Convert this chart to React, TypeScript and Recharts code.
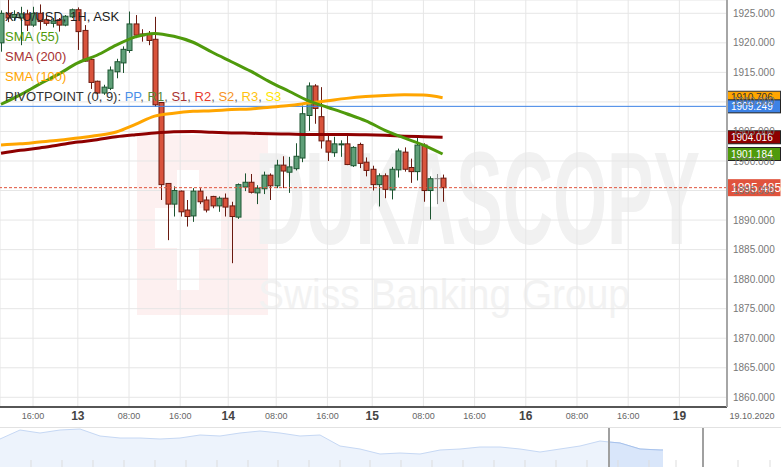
import React from "react";
import {
  ComposedChart,
  AreaChart,
  Area,
  Bar,
  Line,
  XAxis,
  YAxis,
  CartesianGrid,
  ReferenceLine,
} from "recharts";

const FONT = '"Liberation Sans", Arial, sans-serif';

// hourly candles, indexed by trading slot (closed hours are skipped)
const slots = [
  -5, -4, -3, -2, -1, 0, 1, 2, 3, 4, 5, 6, 7, 8, 9, 10, 11, 12, 13, 14, 15, 16, 17, 18, 19, 20, 21, 22, 23, 24,
  25, 26, 27, 28, 29, 30, 31, 32, 33, 34, 35, 36, 37, 38, 39, 40, 41, 42, 43, 44, 45, 46, 47, 48, 49, 50, 51, 52,
  53, 54, 55, 56, 57, 58, 59, 60, 61, 62, 63, 64,
];
const opens = [
  1920.0, 1925.0, 1924.3, 1924.2, 1924.9, 1923.0, 1925.0, 1923.9, 1923.3, 1923.9, 1923.0, 1924.4, 1925.6, 1922.1,
  1917.2, 1913.5, 1911.5, 1912.3, 1915.1, 1916.6, 1918.7, 1923.2, 1921.5, 1921.5, 1920.6, 1909.9, 1896.2, 1892.7,
  1894.9, 1891.7, 1890.7, 1894.9, 1893.4, 1894.0, 1892.4, 1893.7, 1892.4, 1890.5, 1895.6, 1896.4, 1894.6, 1895.3,
  1897.6, 1895.8, 1899.3, 1898.1, 1898.7, 1900.5, 1907.7, 1912.7, 1907.5, 1903.4, 1901.4, 1902.8, 1902.9, 1899.2,
  1902.8, 1899.8, 1898.6, 1896.0, 1897.5, 1895.1, 1898.5, 1901.5, 1898.9, 1898.2, 1902.7, 1895.0, 1897.0, 1897.1,
];
const highs = [
  1925.5, 1927.3, 1925.5, 1926.1, 1925.6, 1926.1, 1926.5, 1924.7, 1924.2, 1924.2, 1924.7, 1925.8, 1926.0, 1923.0,
  1917.4, 1913.6, 1912.9, 1916.0, 1917.3, 1919.4, 1925.3, 1924.7, 1922.3, 1922.0, 1924.4, 1909.9, 1896.2, 1895.7,
  1895.0, 1893.4, 1895.4, 1895.4, 1894.0, 1894.1, 1894.0, 1894.5, 1893.1, 1896.2, 1897.9, 1897.8, 1895.9, 1898.2,
  1897.9, 1900.2, 1900.8, 1900.7, 1903.0, 1909.4, 1913.3, 1913.0, 1912.5, 1904.7, 1904.1, 1903.5, 1904.4, 1902.5,
  1903.1, 1900.6, 1899.2, 1897.9, 1897.9, 1899.0, 1902.1, 1902.3, 1900.4, 1904.1, 1903.0, 1897.4, 1897.8, 1897.7,
];
const lows = [
  1918.5, 1923.5, 1923.8, 1919.6, 1922.0, 1922.7, 1922.2, 1922.9, 1922.6, 1921.9, 1922.8, 1924.2, 1918.8, 1916.8,
  1912.2, 1911.3, 1911.2, 1912.0, 1914.0, 1914.9, 1918.3, 1920.8, 1920.2, 1919.6, 1909.2, 1893.4, 1886.6, 1890.6,
  1890.6, 1888.9, 1889.7, 1892.7, 1891.3, 1892.0, 1891.4, 1890.6, 1882.7, 1890.2, 1894.9, 1894.5, 1892.7, 1894.4,
  1893.4, 1895.4, 1895.4, 1894.6, 1898.4, 1899.8, 1905.1, 1906.3, 1902.1, 1900.0, 1900.7, 1900.7, 1899.3, 1899.0,
  1898.8, 1897.4, 1895.0, 1892.3, 1893.7, 1893.5, 1897.2, 1898.2, 1896.3, 1896.7, 1893.1, 1890.1, 1892.7, 1893.1,
];
const closes = [
  1925.0, 1924.2, 1924.8, 1924.9, 1923.0, 1925.0, 1923.6, 1923.3, 1923.7, 1923.0, 1924.5, 1925.6, 1921.9, 1916.9,
  1913.3, 1911.5, 1912.5, 1915.4, 1916.8, 1918.9, 1923.2, 1921.3, 1921.2, 1920.4, 1909.5, 1896.0, 1892.7, 1895.0,
  1891.4, 1890.6, 1894.9, 1893.1, 1891.7, 1892.4, 1893.7, 1892.2, 1890.6, 1896.0, 1896.4, 1894.7, 1895.4, 1897.6,
  1895.8, 1899.3, 1898.3, 1899.0, 1900.8, 1908.0, 1912.7, 1908.9, 1903.4, 1901.5, 1902.9, 1902.9, 1899.4, 1902.3,
  1899.6, 1898.4, 1896.0, 1897.5, 1895.2, 1898.6, 1901.7, 1898.6, 1898.2, 1902.7, 1895.0, 1897.0, 1897.0, 1895.485,
];

// moving averages, sampled every third slot
const smaSlots = [-5, -2, 1, 4, 7, 10, 13, 16, 19, 22, 25, 28, 31, 34, 37, 40, 43, 46, 49, 52, 55, 58, 61, 64];
const sma55 = [
  1909.6, 1911.2, 1913.0, 1914.7, 1916.6, 1917.9, 1919.6, 1921.0, 1921.6, 1921.1, 1920.1, 1918.4, 1916.8, 1915.2,
  1913.4, 1911.8, 1910.2, 1909.1, 1908.0, 1906.8, 1905.2, 1903.9, 1902.7, 1901.184,
];
const sma100 = [
  1902.7, 1902.9, 1903.2, 1903.5, 1903.9, 1904.3, 1904.9, 1906.2, 1907.6, 1908.1, 1908.4, 1908.5, 1908.7, 1908.8,
  1909.1, 1909.4, 1909.8, 1910.2, 1910.6, 1910.9, 1911.1, 1911.2, 1911.15, 1910.706,
];
const sma200 = [
  1901.3, 1901.8, 1902.2, 1902.7, 1903.2, 1903.6, 1904.1, 1904.45, 1904.75, 1904.95, 1905.0, 1904.85, 1904.75,
  1904.7, 1904.6, 1904.55, 1904.5, 1904.5, 1904.5, 1904.45, 1904.35, 1904.2, 1904.1, 1904.016,
];

const pivotPP = 1909.249;
const lastPrice = 1895.485;

const priceTicks = [1860, 1865, 1870, 1875, 1880, 1885, 1890, 1895, 1900, 1905, 1910, 1915, 1920, 1925];
const xTickSlots = [0, 7, 15, 23, 30.5, 38, 46, 53, 61, 69, 77, 85, 93, 101];
const xTickLabels = ["16:00", "13", "08:00", "16:00", "14", "08:00", "16:00", "15", "08:00", "16:00", "16", "08:00", "16:00", "19"];

// overview strip under the chart
const overviewT = [
  0, 2, 4, 6, 8, 10, 12, 14, 16, 18, 20, 22, 24, 26, 28, 30, 32, 34, 36, 38, 40, 42, 44, 46, 48, 50, 52, 54, 56,
  58, 60, 60.9, 62, 64, 66, 66.3,
];
const overviewLevels = [
  28, 37, 34, 37, 38, 31, 29, 29, 28, 29, 32, 31, 34, 36, 34, 31, 32, 21, 18, 13, 14, 13, 17, 18, 20, 20, 18, 15,
  18, 21, 26, 25, 24, 18, 17, 17,
];
const overviewWindow = [60.9, 70.3];
const overviewMarks = [3.1, 6.2, 9.3, 12.4, 15.5, 18.6, 21.7, 24.8, 27.8, 30.9, 34.0, 37.0, 40.1, 43.2, 46.3, 49.4, 52.5, 55.6, 58.7, 61.8, 64.9, 67.6, 73.8, 77.0];

const candleRows = slots.map((slot, k) => ({
  slot,
  open: opens[k],
  high: highs[k],
  low: lows[k],
  close: closes[k],
}));

const smaRows = smaSlots.map((slot, k) => ({
  slot,
  sma55: sma55[k],
  sma100: sma100[k],
  sma200: sma200[k],
}));

const overviewRows = overviewT.map((t, k) => ({
  t,
  level: overviewLevels[k],
  sel: t >= overviewWindow[0] ? overviewLevels[k] : null,
}));

function Candle(props: any) {
  const { x, y, width, height, payload } = props;
  if (!payload || height == null) return null;
  const { open, high, low, close } = payload;
  const top = Math.min(y, y + height);
  const span = Math.abs(height);
  const px = span / (high - low || 1);
  const toY = (v: number) => top + (high - v) * px;
  const cx = Math.round(x + width / 2) + 0.5;
  const flat = open === close;
  const up = close > open;
  const fill = flat ? "#8a8a8a" : up ? "#5f9f78" : "#d9533c";
  const edge = flat ? "#8a8a8a" : up ? "#1c5430" : "#6a1a10";
  const bTop = toY(Math.max(open, close));
  const bBot = toY(Math.min(open, close));
  return (
    <g>
      <line x1={cx} x2={cx} y1={top} y2={top + span} stroke={edge} strokeWidth={1} />
      {flat ? (
        <line x1={cx - 3} x2={cx + 3} y1={bTop} y2={bTop} stroke={edge} strokeWidth={1} />
      ) : (
        <rect x={cx - 2.5} y={bTop} width={5} height={Math.max(1, bBot - bTop)} fill={fill} stroke={edge} strokeWidth={1} />
      )}
    </g>
  );
}

function PriceTag(props: any) {
  const { viewBox, text, fill, color, border, h, size } = props;
  if (!viewBox) return null;
  const left = viewBox.x + viewBox.width;
  const cy = viewBox.y;
  return (
    <g>
      <rect x={left} y={cy - h / 2} width={53.5} height={h} fill={fill} stroke={border || "none"} strokeWidth={1} />
      <text x={left + 4} y={cy} dy="0.36em" fontSize={size} fill={color} fontFamily={FONT}>
        {text}
      </text>
    </g>
  );
}

function TimeTick(props: any) {
  const { x, y, payload } = props;
  const k = xTickSlots.indexOf(payload.value);
  const text = k >= 0 ? xTickLabels[k] : "";
  const isDay = text.indexOf(":") < 0;
  return (
    <text
      x={x}
      y={y + (isDay ? 13 : 12)}
      textAnchor="middle"
      fontSize={isDay ? 12 : 9}
      fontWeight={isDay ? "bold" : "normal"}
      fill={isDay ? "#444" : "#666"}
      fontFamily={FONT}
    >
      {text}
    </text>
  );
}

function Watermark() {
  return (
    <svg width={781} height={467} style={{ position: "absolute", left: 0, top: 0 }}>
      <rect x={137} y={135} width={131} height={180} fill="#fdf0f0" />
      <rect x={177} y={170} width={22} height={120} fill="#ffffff" />
      <rect x={155} y={208} width={66} height={40} fill="#ffffff" />
      <text x={255} y={244} fontSize={132} fontWeight="bold" fill="#f1f1f1" fontFamily={FONT} textLength={445} lengthAdjust="spacingAndGlyphs">
        DUKASCOPY
      </text>
      <text x={258} y={309} fontSize={43} fill="#f2f2f2" fontFamily={FONT} textLength={372} lengthAdjust="spacingAndGlyphs">
        Swiss Banking Group
      </text>
    </svg>
  );
}

function Captions() {
  const sep = <tspan fill="#666">, </tspan>;
  return (
    <svg width={781} height={467} style={{ position: "absolute", left: 0, top: 0, pointerEvents: "none" }}>
      <g fontFamily={FONT} fontSize={13}>
        <text x={5} y={20.5} fill="#222">XAU/USD, 1H, ASK</text>
        <text x={5} y={40.5} fill="#4f9a0c">SMA (55)</text>
        <text x={5} y={60.5} fill="#a83232">SMA (200)</text>
        <text x={5} y={80.5} fill="#ffa500">SMA (100)</text>
        <text x={5} y={100.5} fill="#333">
          PIVOTPOINT (0, 9):{" "}
          <tspan fill="#4a8fe7">PP</tspan>
          {sep}
          <tspan fill="#5b8c3a">R1</tspan>
          {sep}
          <tspan fill="#a83232">S1</tspan>
          {sep}
          <tspan fill="#e8392b">R2</tspan>
          {sep}
          <tspan fill="#f7931e">S2</tspan>
          {sep}
          <tspan fill="#ffc20e">R3</tspan>
          {sep}
          <tspan fill="#ffe600">S3</tspan>
        </text>
      </g>
      <text x={752} y={419} textAnchor="middle" fontSize={9} fill="#666" fontFamily={FONT}>
        19.10.2020
      </text>
    </svg>
  );
}

export default function App() {
  return (
    <div style={{ position: "absolute", left: 0, top: 0, width: 781, height: 467, background: "#fff", overflow: "hidden" }}>
      <Watermark />
      <div style={{ position: "absolute", left: 0, top: 0 }}>
        <ComposedChart width={781} height={427} data={candleRows} margin={{ top: 0, right: 0, bottom: 0, left: 0 }}>
          <CartesianGrid stroke="#e6e6e6" strokeWidth={1} />
          <XAxis
            type="number"
            dataKey="slot"
            domain={[-5.16, 108.44]}
            allowDataOverflow
            ticks={xTickSlots}
            interval={0}
            height={20}
            tickLine={false}
            tickSize={0}
            tickMargin={0}
            axisLine={{ stroke: "#222", strokeWidth: 1.5 }}
            tick={<TimeTick />}
          />
          <YAxis
            orientation="right"
            type="number"
            domain={[1858.36, 1927.25]}
            allowDataOverflow
            ticks={priceTicks}
            interval={0}
            width={54}
            tickLine={false}
            tickSize={0}
            tickMargin={6}
            axisLine={{ stroke: "#a6a6a6", strokeWidth: 2 }}
            tick={{ fontSize: 10, fill: "#777", fontFamily: FONT }}
            tickFormatter={(v: number) => v.toFixed(3)}
          />
          <ReferenceLine y={pivotPP} stroke="#3d82e6" strokeWidth={1} />
          <ReferenceLine y={lastPrice} stroke="#e0533d" strokeWidth={1} strokeDasharray="3 2" />
          <Bar
            dataKey={(d: any) => [d.low, d.high]}
            barSize={5}
            shape={(p: any) => <Candle {...p} />}
            isAnimationActive={false}
          />
          <Line data={smaRows} dataKey="sma100" type="monotone" dot={false} activeDot={false} stroke="#ffa500" strokeWidth={3} isAnimationActive={false} />
          <Line data={smaRows} dataKey="sma200" type="monotone" dot={false} activeDot={false} stroke="#8e0000" strokeWidth={3} isAnimationActive={false} />
          <Line data={smaRows} dataKey="sma55" type="monotone" dot={false} activeDot={false} stroke="#4f9a0c" strokeWidth={3} isAnimationActive={false} />
          <ReferenceLine
            y={sma100[sma100.length - 1]}
            stroke="none"
            label={<PriceTag text={sma100[sma100.length - 1].toFixed(3)} fill="#ffa500" color="#333" border="#333" h={13} size={10} />}
          />
          <ReferenceLine
            y={pivotPP}
            stroke="none"
            label={<PriceTag text={pivotPP.toFixed(3)} fill="#3d82e6" color="#fff" border="#222" h={13} size={10} />}
          />
          <ReferenceLine
            y={sma200[sma200.length - 1]}
            stroke="none"
            label={<PriceTag text={sma200[sma200.length - 1].toFixed(3)} fill="#8e0000" color="#fff" border="#222" h={13} size={10} />}
          />
          <ReferenceLine
            y={sma55[sma55.length - 1]}
            stroke="none"
            label={<PriceTag text={sma55[sma55.length - 1].toFixed(3)} fill="#4f9a0c" color="#fff" border="#222" h={13} size={10} />}
          />
          <ReferenceLine
            y={lastPrice}
            stroke="none"
            label={<PriceTag text={lastPrice.toFixed(3)} fill="#e0533d" color="#fff" h={17} size={12} />}
          />
        </ComposedChart>
      </div>
      <div style={{ position: "absolute", left: 0, top: 427, width: 781, height: 40, borderTop: "1px solid #e2e2e2", boxSizing: "border-box" }}>
        <AreaChart width={781} height={39} data={overviewRows} margin={{ top: 0, right: 0, bottom: 0, left: 0 }}>
          <XAxis type="number" dataKey="t" domain={[0, 78.1]} allowDataOverflow hide />
          <YAxis type="number" domain={[0, 39]} allowDataOverflow hide />
          {overviewMarks.map((m) => (
            <ReferenceLine key={m} segment={[{ x: m, y: 0 }, { x: m, y: 7 }]} stroke="#dddddd" />
          ))}
          <Area dataKey="level" type="linear" baseValue={0} stroke="#c6d8f4" strokeWidth={1} fill="#edf3fc" fillOpacity={1} isAnimationActive={false} />
          <Area dataKey="sel" type="linear" baseValue={0} stroke="#a7c2ec" strokeWidth={1} fill="#d9e6fa" fillOpacity={1} isAnimationActive={false} />
          {overviewWindow.map((w) => (
            <ReferenceLine key={w} x={w} stroke="#a0a0a0" strokeWidth={2} />
          ))}
        </AreaChart>
      </div>
      <Captions />
    </div>
  );
}
